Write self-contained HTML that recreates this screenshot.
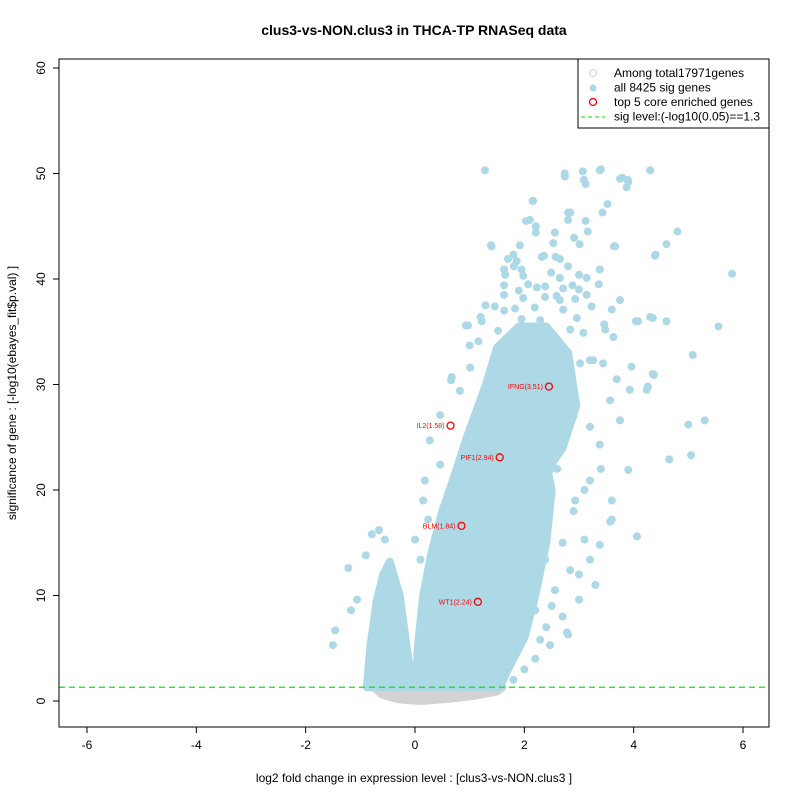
<!DOCTYPE html>
<html><head><meta charset="utf-8"><style>body{margin:0;background:#fff}svg{display:block}text{font-family:"Liberation Sans",sans-serif}</style></head>
<body>
<svg id="c" width="800" height="800"></svg>
<script>
const xTicks=[-6,-4,-2,0,2,4,6];
const yTicks=[0,10,20,30,40,50,60];
const greyMass=[[-0.75,1.3],[-0.6,0.6],[-0.3,0.15],[0.1,0],[0.6,0.2],[1.1,0.5],[1.5,0.9],[1.6,1.3]];
const leftBlob=[[-0.88,1.3],[-0.82,5],[-0.7,9.5],[-0.58,12],[-0.46,13.2],[-0.28,10],[-0.15,5],[-0.04,1.3]];
const rightDense=[[0.02,1.3],[0.05,5],[0.15,10],[0.3,14],[0.5,18],[0.7,21],[0.95,25],[1.3,28],[1.8,28],[2.3,25],[2.5,20],[2.4,15],[2.2,10],[2.0,6],[1.7,3],[1.55,1.3]];
const rightMid=[[0.95,25],[1.3,30],[1.5,33.5],[1.9,35.5],[2.4,35.5],[2.8,33],[2.95,28],[2.7,24],[2.3,21]];
const sigX=[1.28,3.09,3.38,4.3,2.74,3.79,3.9,4.8,4.6,5.8,5.55,5.08,4.35,4.26,5.3,5.0,5.05,4.65,3.9,4.06,3.57,4.4,4.08,4.6,4.35,3.66,1.39,2.36,2.1,2.16,2.84,1.65,0.93,1.0,1.2,0.66,0.46,0.27,0.46,0.18,0.15,0.0,0.1,0.24,-0.66,-0.79,-0.55,-1.22,-0.9,-1.06,-1.46,-1.5,-1.17,2.29,2.47,2.78,2.8,3.0,3.2,3.38,3.6,2.93,3.2,3.38,3.75,3.57,3.93,3.2,3.48,3.75,3.0,3.38,2.65,2.84,2.56,2.38,2.65,2.47,2.1,2.38,1.92,2.2,1.74,1.46,1.92,2.56,2.84,3.1,2.6,2.9,2.7,3.0,2.5,2.7,3.3,2.2,2.0,1.8,3.1,2.9,3.2,2.6,3.4,3.6,2.4];
const sigY=[50.3,49.4,50.3,50.3,50,49.6,49.2,44.5,43.3,40.5,35.5,32.8,31,29.8,26.6,26.2,23.3,22.9,21.9,15.6,17,42.3,36,36,36.3,43.1,43.2,42.2,45.6,47.4,46.3,40.4,35.6,33.7,36.4,30.4,27.1,24.7,22.4,20.9,19,15.3,13.4,17.2,16.2,15.8,15.3,12.6,13.8,9.6,6.7,5.3,8.6,5.8,5.3,6.5,6.3,9.6,13.4,14.8,17.2,19,20.9,24.3,26.6,28.5,29.5,32.3,35.2,38,39,40.9,38,35.2,32.3,28.5,25.7,21.9,17.2,13.4,11.5,8.6,4.8,2.9,6.7,10.5,12.4,15.3,22,18,15,12,9,8,11,4,3,2,20,27,26,27,22,19,7];
const upperX=[2.74,3.07,3.40,3.75,3.89,3.87,3.12,2.15,3.52,3.43,2.80,2.80,2.03,2.21,2.21,2.56,3.12,3.16,2.91,3.01,2.53,3.64,1.40,1.92,1.80,1.70,1.86,2.32,2.57,2.65,1.81,1.95,1.63,2.80,2.49,1.98,2.65,3.00,3.14,3.36,4.39,1.63,2.07,2.23,2.38,2.71,2.88,1.63,1.90,1.98,2.38,2.59,2.93,3.14,1.29,1.46,1.63,1.83,2.19,2.71,3.23,3.60,0.97,1.22,1.95,2.29,2.96,3.46,4.04,4.30,1.16,3.63,1.52,3.08,4.37,3.96,3.69,4.24,1.01,0.67,0.82,3.44,3.26,3.02];
const upperY=[49.7,50.2,50.4,49.5,49.4,48.7,49.0,47.4,47.1,46.3,46.3,45.6,45.5,45.0,44.4,44.4,45.5,44.5,43.9,43.3,43.4,43.1,43.1,43.2,42.3,41.9,41.7,42.1,42.1,41.9,41.2,40.9,40.9,41.2,40.6,40.3,40.1,40.4,40.1,39.5,42.2,39.4,39.5,39.2,39.3,39.1,39.4,38.5,38.9,38.2,38.3,38.4,38.1,38.5,37.5,37.4,37.0,37.2,37.3,37.1,37.4,37.1,35.6,36.0,36.2,36.1,36.3,35.7,36.0,36.4,34.1,34.5,35.1,34.9,30.9,31.7,30.5,29.5,31.6,30.7,29.4,32.0,32.3,32.0];
const geneNames=["IFNG(3.51)","IL2(1.58)","PIF1(2.94)","BLM(1.84)","WT1(2.24)"];
const geneX=[2.45,0.65,1.55,0.85,1.15];
const geneY=[29.8,26.1,23.1,16.6,9.4];
const sigLevel=1.3;

const NS="http://www.w3.org/2000/svg",svg=document.getElementById('c');
const L=59,R=769,T=59,B=727;
const sx=v=>415+54.67*v, sy=v=>701-10.55*v;
function mk(t,a,p){const e=document.createElementNS(NS,t);for(const k in a)e.setAttribute(k,a[k]);(p||svg).appendChild(e);return e;}
function poly(arr,fill,name){const e=mk('polygon',{points:arr.map(p=>sx(p[0])+','+sy(p[1])).join(' '),fill:fill,stroke:fill,'stroke-width':8,'stroke-linejoin':'round'});

}
poly(greyMass,'#d3d3d3','nonsig-gene-mass');
poly(leftBlob,'#add8e6','sig-genes-down-mass');
poly(rightDense,'#add8e6','sig-genes-up-mass');
poly(rightMid,'#add8e6','sig-genes-up-upper-mass');
function dots(xs,ys){xs.forEach((x,i)=>{const c=mk('circle',{cx:sx(x),cy:sy(ys[i]),r:4,fill:'#add8e6'});

});}
dots(sigX,sigY);
dots(upperX,upperY);
const sl=mk('line',{x1:L,x2:R,y1:sy(sigLevel),y2:sy(sigLevel),stroke:'#00ee00','stroke-dasharray':'6,4','stroke-width':1.3});


geneNames.forEach((n,i)=>{const c=mk('circle',{cx:sx(geneX[i]),cy:sy(geneY[i]),r:3.5,fill:'none',stroke:'#ff0000','stroke-width':1.3});


const t=mk('text',{x:sx(geneX[i])-6,y:sy(geneY[i])+2.5,'font-size':7,fill:'#ff0000','text-anchor':'end'});t.textContent=n;

});
const fr=mk('rect',{x:L,y:T,width:R-L,height:B-T,fill:'none',stroke:'#000'});


xTicks.forEach(v=>{mk('line',{x1:sx(v),x2:sx(v),y1:B,y2:B+6,stroke:'#000'});
const t=mk('text',{x:sx(v),y:B+22,'font-size':12,'text-anchor':'middle'});t.textContent=v;

});
yTicks.forEach(v=>{mk('line',{x1:L-6,x2:L,y1:sy(v),y2:sy(v),stroke:'#000'});
const t=mk('text',{x:L-14,y:sy(v),'font-size':12,'text-anchor':'middle',transform:`rotate(-90 ${L-14} ${sy(v)})`});t.textContent=v;

});
function txt(s,a,name){const t=mk('text',a);t.textContent=s;

return t;}
txt('clus3-vs-NON.clus3 in THCA-TP RNASeq data',{x:414,y:35,'font-size':14,'font-weight':'bold','text-anchor':'middle'},'chart-title');
txt('log2 fold change in expression level : [clus3-vs-NON.clus3 ]',{x:414,y:782,'font-size':12,'text-anchor':'middle'},'x-axis-title');
txt('significance of gene : [-log10(ebayes_fit$p.val) ]',{x:16,y:393,'font-size':12,'text-anchor':'middle',transform:'rotate(-90 16 393)'},'y-axis-title');
const lg=mk('g',{});
mk('rect',{x:578,y:59,width:191,height:69,fill:'#fff',stroke:'#000'},lg);
mk('circle',{cx:593,cy:73,r:3.5,fill:'none',stroke:'#d3d3d3'},lg);
mk('circle',{cx:593,cy:88,r:3.5,fill:'#add8e6'},lg);
mk('circle',{cx:593,cy:102,r:3.5,fill:'none',stroke:'#ff0000','stroke-width':1.3},lg);
mk('line',{x1:581,x2:605,y1:117,y2:117,stroke:'#00ee00','stroke-dasharray':'4,3'},lg);
['Among total17971genes','all 8425 sig genes','top 5 core enriched genes','sig level:(-log10(0.05)==1.3'].forEach((s,i)=>{const t=mk('text',{x:614,y:77+i*14.5,'font-size':12},lg);t.textContent=s;

});
</script>
</body></html>
